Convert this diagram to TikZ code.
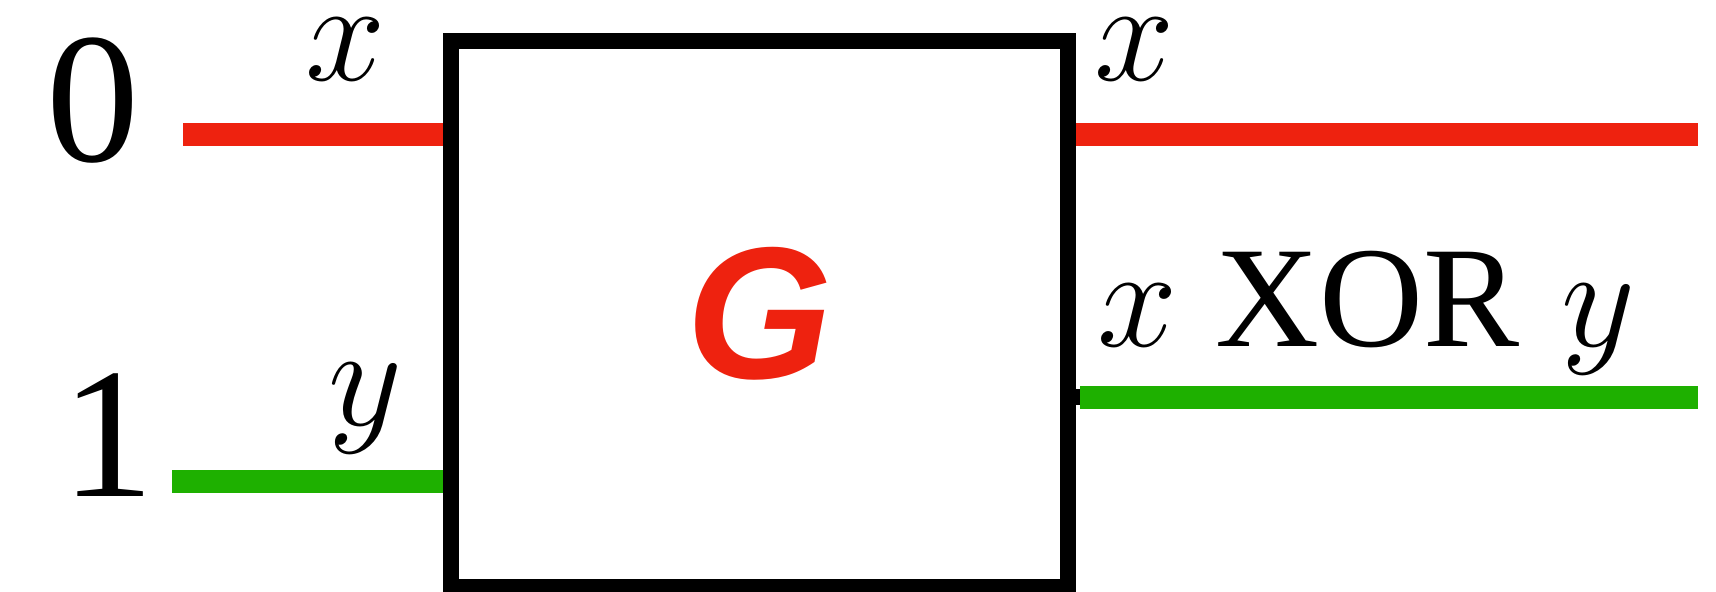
\documentclass[tikz,border=0pt]{standalone}
\usepackage{fix-cm}
\usepackage{fontspec}
\setmainfont{Liberation Serif}
\setsansfont{Liberation Sans}
\usetikzlibrary{positioning}
\definecolor{wirered}{HTML}{EE220F}
\definecolor{wiregreen}{HTML}{1EB000}

\begin{document}
\begin{tikzpicture}[
  x=0.5pt, y=-0.5pt,
  gatebox/.style={
    draw=black,
    line width=8pt,
    minimum width=308.5pt,
    minimum height=273pt,
    inner sep=0pt,
    text=wirered,
    font=\sffamily\bfseries\itshape\fontsize{94}{94}\selectfont
  },
  redwire/.style={line width=11.5pt,wirered},
  greenwire/.style={line width=11.5pt,wiregreen},
  lbl/.style={inner sep=0pt,anchor=base,font=\fontsize{72}{80}\selectfont},
  digit/.style={inner sep=0pt,anchor=base,font=\fontsize{93}{100}\selectfont}
]
  \useasboundingbox (0,0) rectangle (1716,592);

  \coordinate (in0) at (183,134.5);
  \coordinate (in1) at (172,481);
  \coordinate (out0) at (1698,134.5);
  \coordinate (out1) at (1698,397.5);
  \coordinate (stub) at (1080,397.5);

  \node[gatebox] (gate) at (759.5,314) {\raisebox{-2pt}{G}};

  \draw[redwire] (in0) -- (in0 -| gate.west);
  \draw[greenwire] (in1) -- (in1 -| gate.west);
  \draw[redwire] (gate.east |- out0) -- (out0);
  \draw[line width=8pt] (gate.east |- stub) -- (stub);
  \draw[greenwire] (stub) -- (out1);

  \node[digit] (zero) at (93,162) {0};
  \node[digit] (one) at (108,496) {1};
  \node[lbl] (xin) at (346,81) {$x$};
  \node[lbl] (yin) at (365,425) {$y$};
  \node[lbl] (xout) at (1135,81) {$x$};
  \node[lbl,anchor=base west] (xory) at (1097,347) {$x$\hspace{19pt}XOR\hspace{21pt}$y$};
\end{tikzpicture}
\end{document}
